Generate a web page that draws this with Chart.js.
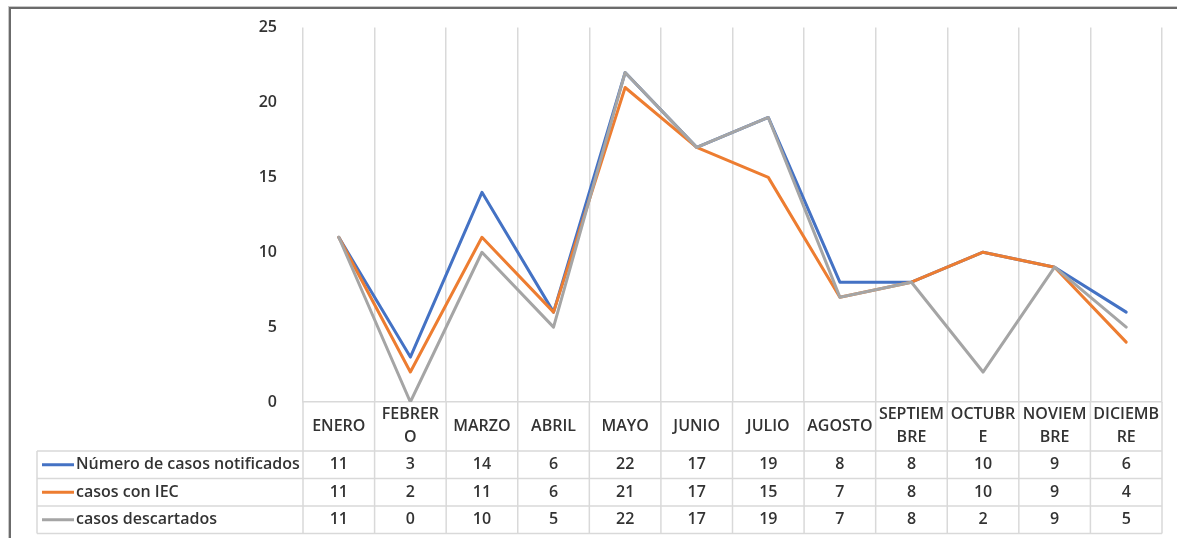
<!DOCTYPE html>
<html>
<head>
<meta charset="utf-8">
<script src="https://cdn.jsdelivr.net/npm/chart.js@4"></script>
<style>
  html, body { margin: 0; padding: 0; background: #fff; }
  #wrap { position: relative; width: 1177px; height: 538px; overflow: hidden; }
  #frame {
    position: absolute; left: 9px; top: 7px; width: 1300px; height: 700px;
    border-left: 2px solid #6b6b6b; border-top: 2px solid #6b6b6b;
    box-shadow: -1px -1px 0 #c8c8c8;
  }
  canvas { position: absolute; left: 0; top: 0; }
</style>
</head>
<body>
<div id="wrap">
  <div id="frame"></div>
  <canvas id="chart" width="1177" height="538"></canvas>
</div>
<script>
const months = ['ENERO', ['FEBRER', 'O'], 'MARZO', 'ABRIL', 'MAYO', 'JUNIO', 'JULIO', 'AGOSTO',
    ['SEPTIEM', 'BRE'], ['OCTUBR', 'E'], ['NOVIEM', 'BRE'], ['DICIEMB', 'RE']];

const notificados = [11, 3, 14, 6, 22, 17, 19, 8, 8, 10, 9, 6];
const conIEC = [11, 2, 11, 6, 21, 17, 15, 7, 8, 10, 9, 4];
const descartados = [11, 0, 10, 5, 22, 17, 19, 7, 8, 2, 9, 5];

const seriesNames = ['Número de casos notificados', 'casos con IEC', 'casos descartados'];
const seriesColors = ['#4472C4', '#ED7D31', '#A5A5A5'];

const yTicks = [0, 5, 10, 15, 20, 25];

const FONT = '"Open Sans", Lato, sans-serif';
const TEXT = '#333333';
const GRID = '#d9d9d9';

// data table under the plot, drawn off the x scale
const dataTable = {
    id: 'dataTable',
    afterDraw(chart) {
        const { ctx } = chart;
        const x = chart.scales.x;
        const rows = [notificados, conIEC, descartados];
        const rowH = 27.5;
        const top = x.bottom;
        const colW = (x.right - x.left) / months.length;
        const tableLeft = 37;
        const bottom = top + rowH * rows.length;

        ctx.save();
        ctx.strokeStyle = GRID;
        ctx.lineWidth = 1.5;

        // horizontal rules
        for (let r = 0; r <= rows.length; r++) {
            const y = top + r * rowH;
            ctx.beginPath();
            ctx.moveTo(tableLeft, y);
            ctx.lineTo(x.right, y);
            ctx.stroke();
        }
        // vertical rules through header + table
        for (let i = 0; i <= months.length; i++) {
            const px = x.left + i * colW;
            ctx.beginPath();
            ctx.moveTo(px, x.top);
            ctx.lineTo(px, bottom);
            ctx.stroke();
        }
        ctx.beginPath();
        ctx.moveTo(tableLeft, top);
        ctx.lineTo(tableLeft, bottom);
        ctx.stroke();

        ctx.font = '600 16px ' + FONT;
        ctx.fillStyle = TEXT;
        ctx.textBaseline = 'middle';

        rows.forEach((vals, r) => {
            const cy = top + r * rowH + rowH / 2;
            // legend key
            ctx.strokeStyle = seriesColors[r];
            ctx.lineWidth = 3;
            ctx.beginPath();
            ctx.moveTo(42, cy);
            ctx.lineTo(74, cy);
            ctx.stroke();
            ctx.textAlign = 'left';
            ctx.fillText(seriesNames[r], 76, cy);
            ctx.textAlign = 'center';
            vals.forEach((v, i) => {
                ctx.fillText(String(v), x.getPixelForValue(i), cy);
            });
        });
        ctx.restore();
    }
};

const lineStyle = {
    borderWidth: 3,
    pointRadius: 0,
    tension: 0,
    borderJoinStyle: 'round',
    borderCapStyle: 'round',
    fill: false
};

new Chart(document.getElementById('chart'), {
    type: 'line',
    data: {
        labels: months,
        datasets: [
            { label: seriesNames[0], data: notificados, borderColor: seriesColors[0], order: 2, ...lineStyle },
            { label: seriesNames[1], data: conIEC, borderColor: seriesColors[1], order: 1, ...lineStyle },
            { label: seriesNames[2], data: descartados, borderColor: seriesColors[2], order: 0, ...lineStyle }
        ]
    },
    options: {
        responsive: false,
        animation: false,
        layout: { padding: { top: 27, right: 15, bottom: 87, left: 0 } },
        plugins: {
            legend: { display: false },
            tooltip: { enabled: false }
        },
        scales: {
            x: {
                offset: true,
                grid: { display: true, color: GRID, lineWidth: 1.5, offset: true, drawTicks: false },
                border: { display: true, color: GRID, width: 1.5 },
                ticks: {
                    autoSkip: false,
                    maxRotation: 0,
                    crossAlign: 'center',
                    padding: 12.5,
                    color: TEXT,
                    font: { family: FONT, size: 16, weight: '600', lineHeight: 1.45 }
                },
                afterFit(scale) { scale.height = 49; }
            },
            y: {
                min: 0,
                max: 25,
                afterBuildTicks(scale) { scale.ticks = yTicks.map(v => ({ value: v })); },
                grid: { display: false },
                border: { display: false },
                ticks: {
                    padding: 18,
                    color: TEXT,
                    font: { family: FONT, size: 16, weight: '600' }
                },
                afterFit(scale) { scale.width = 303; }
            }
        }
    },
    plugins: [dataTable]
});
</script>
</body>
</html>
